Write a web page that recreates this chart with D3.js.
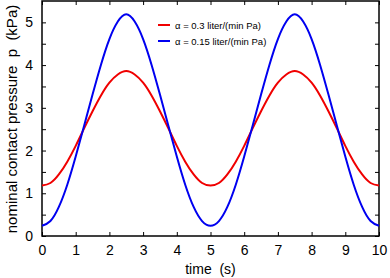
<!DOCTYPE html>
<html>
<head>
<meta charset="utf-8">
<script src="https://cdn.jsdelivr.net/npm/d3@7"></script>
<style>
  body { margin: 0; background: #fff; }
  text { font-family: "Liberation Sans", Arial, sans-serif; white-space: pre; }
</style>
</head>
<body>
<svg id="chart" width="390" height="278"></svg>
<script>
// time samples (s) and pressure readings (kPa)
const times = [0,0.25,0.5,0.75,1,1.25,1.5,1.75,2,2.25,2.5,2.75,3,3.25,3.5,3.75,4,4.25,4.5,4.75,5,
  5.25,5.5,5.75,6,6.25,6.5,6.75,7,7.25,7.5,7.75,8,8.25,8.5,8.75,9,9.25,9.5,9.75,10];
const redVals = [1.18,1.24,1.44,1.74,2.11,2.52,2.92,3.29,3.59,3.78,3.86,3.78,3.59,3.29,2.92,2.52,2.11,1.74,1.44,1.24,1.18,
  1.24,1.44,1.74,2.11,2.52,2.92,3.29,3.59,3.78,3.86,3.78,3.59,3.29,2.92,2.52,2.11,1.74,1.44,1.24,1.18];
const blueVals = [0.24,0.35,0.68,1.20,1.86,2.58,3.31,4.01,4.61,5.02,5.19,5.02,4.61,4.01,3.31,2.58,1.86,1.20,0.68,0.35,0.24,
  0.35,0.68,1.20,1.86,2.58,3.31,4.01,4.61,5.02,5.19,5.02,4.61,4.01,3.31,2.58,1.86,1.20,0.68,0.35,0.24];
const xTicks = [0,1,2,3,4,5,6,7,8,9,10];
const yMinor = [0,0.5,1,1.5,2,2.5,3,3.5,4,4.5,5];
const seriesNames = ["\u03b1 = 0.3 liter/(min Pa)", "\u03b1 = 0.15 liter/(min Pa)"];
const seriesColors = ["#f00000", "#0000f0"];

const margin = { top: 1, right: 11, bottom: 42, left: 42 },
    width = 390 - margin.left - margin.right,
    height = 278 - margin.top - margin.bottom;

const svg = d3.select("#chart")
    .append("g")
    .attr("transform", `translate(${margin.left},${margin.top})`);

const x = d3.scaleLinear().domain([0, 10]).range([0, width]);
const y = d3.scaleLinear().domain([0, 5.5]).range([height, 0]);

// inward ticks on all four sides
svg.append("g")
    .attr("transform", `translate(0,${height})`)
    .call(d3.axisBottom(x).tickValues(xTicks).tickSize(-4).tickPadding(9).tickFormat(d3.format("d")))
    .call(g => g.select(".domain").remove())
    .selectAll("text").attr("font-size", 14).attr("fill", "#000");
svg.append("g")
    .call(d3.axisTop(x).tickValues(xTicks).tickSize(-4).tickFormat(""))
    .call(g => g.select(".domain").remove());
svg.append("g")
    .call(d3.axisLeft(y).tickValues(yMinor).tickSize(-4).tickPadding(9)
      .tickFormat(d => Number.isInteger(d) ? d : ""))
    .call(g => g.select(".domain").remove())
    .selectAll("text").attr("font-size", 14).attr("fill", "#000");
svg.append("g")
    .attr("transform", `translate(${width},0)`)
    .call(d3.axisRight(y).tickValues(yMinor).tickSize(-4).tickFormat(""))
    .call(g => g.select(".domain").remove());
svg.selectAll(".tick line").attr("stroke", "#000");

svg.append("rect")
    .attr("width", width).attr("height", height)
    .attr("fill", "none").attr("stroke", "#000").attr("stroke-width", 1.5);

const line = d3.line().x((d, i) => x(times[i])).y(d => y(d)).curve(d3.curveNatural);
[redVals, blueVals].forEach((vals, k) => {
  svg.append("path")
      .datum(vals)
      .attr("d", line)
      .attr("fill", "none")
      .attr("stroke", seriesColors[k])
      .attr("stroke-width", 2);
});

// legend
seriesNames.forEach((name, k) => {
  const ly = 25 + k * 16 - margin.top;
  svg.append("line")
      .attr("x1", 158 - margin.left).attr("x2", 170 - margin.left)
      .attr("y1", ly).attr("y2", ly)
      .attr("stroke", seriesColors[k]).attr("stroke-width", 2);
  svg.append("text")
      .attr("x", 175 - margin.left).attr("y", ly + 3.5)
      .attr("font-size", 9.5)
      .text(name);
});

// axis titles
svg.append("text")
    .attr("x", width / 2).attr("y", height + 38)
    .attr("text-anchor", "middle").attr("font-size", 14)
    .text("time  (s)");
svg.append("text")
    .attr("transform", "rotate(-90)")
    .attr("x", -118).attr("y", -margin.left + 17)
    .attr("text-anchor", "middle").attr("font-size", 15)
    .text("nominal contact pressure  p  (kPa)");
</script>
</body>
</html>
